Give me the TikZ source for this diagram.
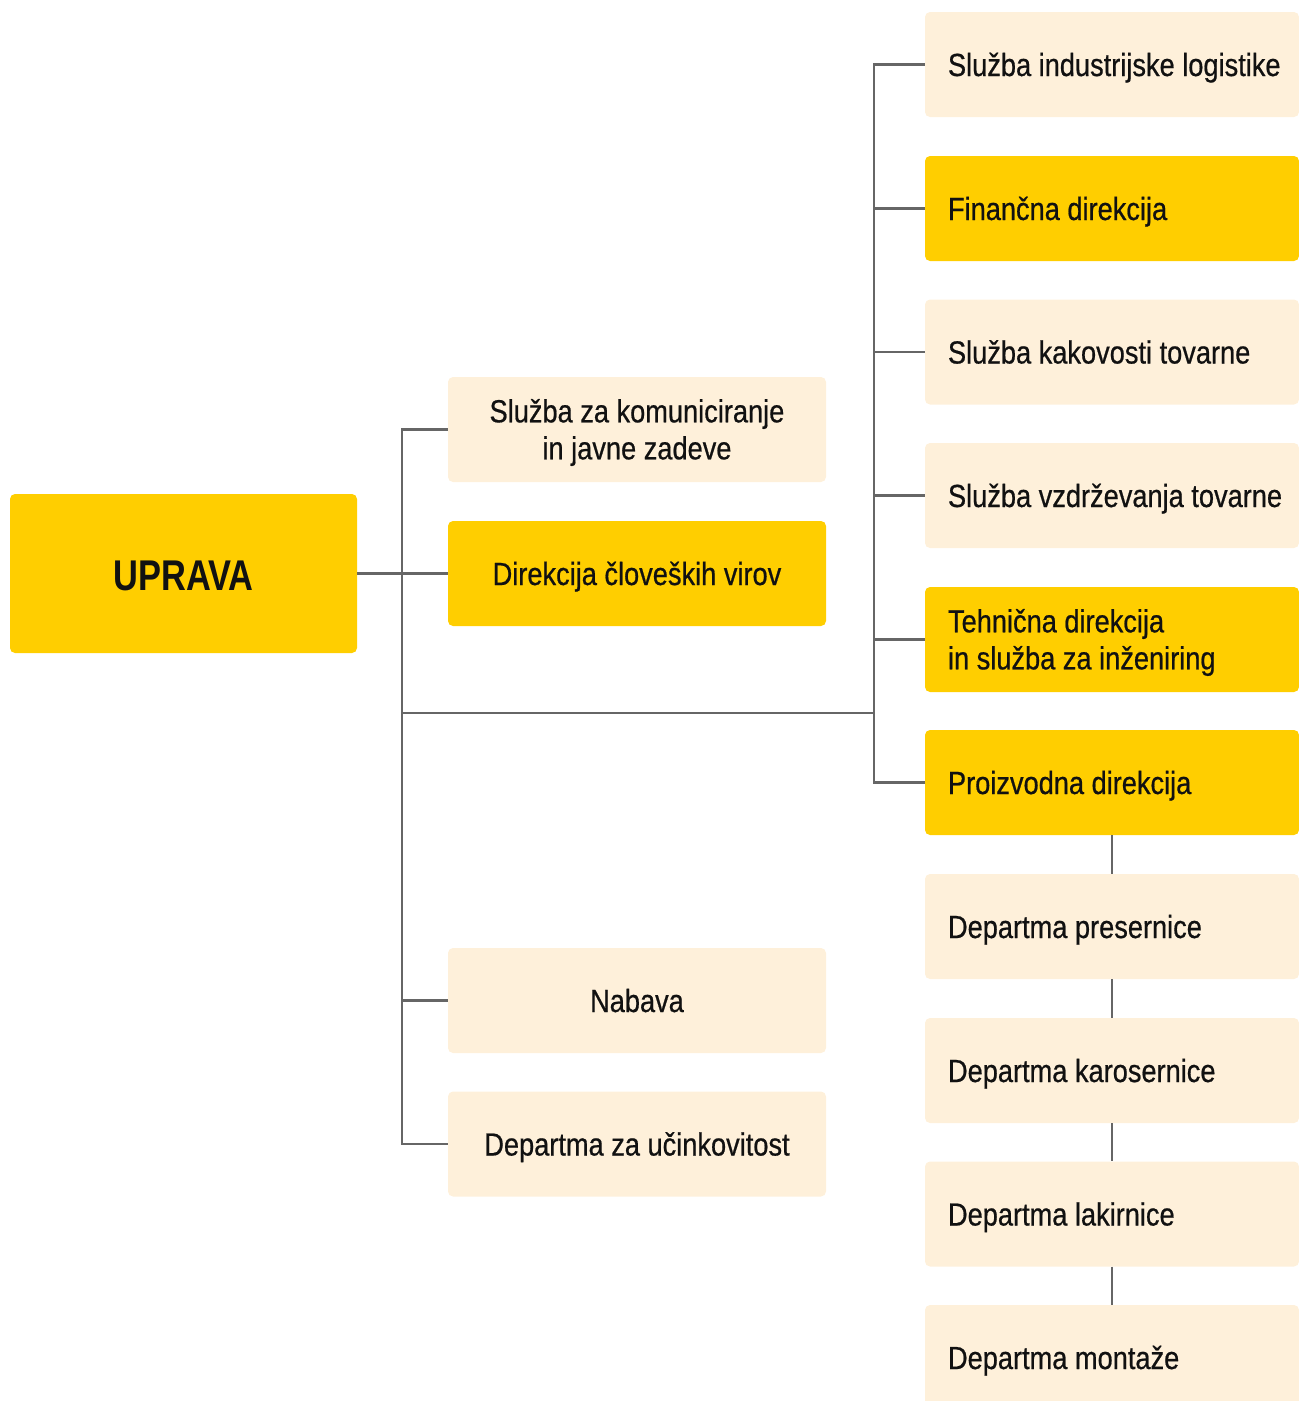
\documentclass[tikz,border=0pt]{standalone}
\usepackage{fontspec}
\setmainfont{Liberation Sans}[FakeStretch=0.85, FakeBold=0.6]
\newfontfamily\titlefont{Liberation Sans}[FakeStretch=0.8]
\definecolor{boxyellow}{HTML}{FFCE00}
\definecolor{boxcream}{HTML}{FEF0DA}
\definecolor{linegray}{HTML}{666666}
\definecolor{txt}{HTML}{111111}
\begin{document}
\begin{tikzpicture}[x=1pt,y=-1pt,
  base/.style={rectangle, rounded corners=5pt, inner sep=0pt},
  yel/.style={base, fill=boxyellow},
  crm/.style={base, fill=boxcream},
  midbox/.style={minimum width=378pt, minimum height=105pt},
  rbox/.style={minimum width=374pt, minimum height=105pt},
  ctext/.style={inner sep=0pt, align=center, text=txt,
    font=\fontsize{32}{37}\selectfont},
  rtext/.style={anchor=west, inner sep=0pt, align=left, text=txt,
    font=\fontsize{32}{37}\selectfont},
  oneline/.style={text height=24pt, text depth=7pt},
  conn/.style={draw=linegray, line width=2.6pt}
]
\useasboundingbox (0,0) rectangle (1299,1401);
\clip (0,0) rectangle (1299,1401);

% root
\node[yel, minimum width=347pt, minimum height=159pt] (uprava) at (183.5,573.5) {};
\node[ctext, font=\titlefont\bfseries\fontsize{43}{48}\selectfont] (tupr) at ([yshift=-2pt]uprava.center) {UPRAVA};

% middle column
\node[crm, midbox] (kom) at (637,429.5) {};
\node[yel, midbox] (hr)  at (637,573.5) {};
\node[crm, midbox] (nab) at (637,1000.5) {};
\node[crm, midbox] (uc)  at (637,1144) {};
\node[ctext] (tkom) at ([yshift=-3pt]kom.center) {Služba za komuniciranje\\in javne zadeve};
\node[ctext, oneline] (thr)  at ([yshift=-3pt]hr.center)  {Direkcija človeških virov};
\node[ctext, oneline] (tnab) at ([yshift=-3pt]nab.center) {Nabava};
\node[ctext, oneline] (tuc)  at ([yshift=-3pt]uc.center)  {Departma za učinkovitost};

% right column boxes
\node[crm, rbox] (logi) at (1112,64.5)  {};
\node[yel, rbox] (fin)  at (1112,208.5) {};
\node[crm, rbox] (kak)  at (1112,352)   {};
\node[crm, rbox] (vzd)  at (1112,495.5) {};
\node[yel, rbox] (teh)  at (1112,639.5) {};
\node[yel, rbox] (pro)  at (1112,782.5) {};
\node[crm, rbox] (pre)  at (1112,926.5) {};
\node[crm, rbox] (kar)  at (1112,1070.5){};
\node[crm, rbox] (lak)  at (1112,1214)  {};
\node[crm, rbox] (mon)  at (1112,1357.5){};

% right column texts
\node[rtext, oneline] (tlogi) at ([xshift=23pt,yshift=-3pt]logi.west) {Služba industrijske logistike};
\node[rtext, oneline] (tfin)  at ([xshift=23pt,yshift=-3pt]fin.west)  {Finančna direkcija};
\node[rtext, oneline] (tkak)  at ([xshift=23pt,yshift=-3pt]kak.west)  {Služba kakovosti tovarne};
\node[rtext, oneline] (tvzd)  at ([xshift=23pt,yshift=-3pt]vzd.west)  {Služba vzdrževanja tovarne};
\node[rtext] (tteh)  at ([xshift=23pt,yshift=-3pt]teh.west)  {Tehnična direkcija\\in služba za inženiring};
\node[rtext, oneline] (tpro)  at ([xshift=23pt,yshift=-3pt]pro.west)  {Proizvodna direkcija};
\node[rtext, oneline] (tpre)  at ([xshift=23pt,yshift=-3pt]pre.west)  {Departma presernice};
\node[rtext, oneline] (tkar)  at ([xshift=23pt,yshift=-3pt]kar.west)  {Departma karosernice};
\node[rtext, oneline] (tlak)  at ([xshift=23pt,yshift=-3pt]lak.west)  {Departma lakirnice};
\node[rtext, oneline] (tmon)  at ([xshift=23pt,yshift=-3pt]mon.west)  {Departma montaže};

% trunks
\coordinate (lt) at (402,0);
\coordinate (rt) at (874,0);
\coordinate (junc) at (402,713);

% left trunk
\draw[conn] (kom.west) -- (kom.west -| lt) -- (uc.west -| lt) -- (uc.west);
\draw[conn] (uprava.east) -- (hr.west);
\draw[conn] (nab.west) -- (nab.west -| lt);
\draw[conn] (junc) -- (junc -| rt);

% right trunk
\draw[conn] (logi.west) -- (logi.west -| rt) -- (pro.west -| rt) -- (pro.west);
\draw[conn] (fin.west) -- (fin.west -| rt);
\draw[conn] (kak.west) -- (kak.west -| rt);
\draw[conn] (vzd.west) -- (vzd.west -| rt);
\draw[conn] (teh.west) -- (teh.west -| rt);

% production chain
\draw[conn] (pro.south) -- (pre.north);
\draw[conn] (pre.south) -- (kar.north);
\draw[conn] (kar.south) -- (lak.north);
\draw[conn] (lak.south) -- (mon.north);
\end{tikzpicture}
\end{document}
